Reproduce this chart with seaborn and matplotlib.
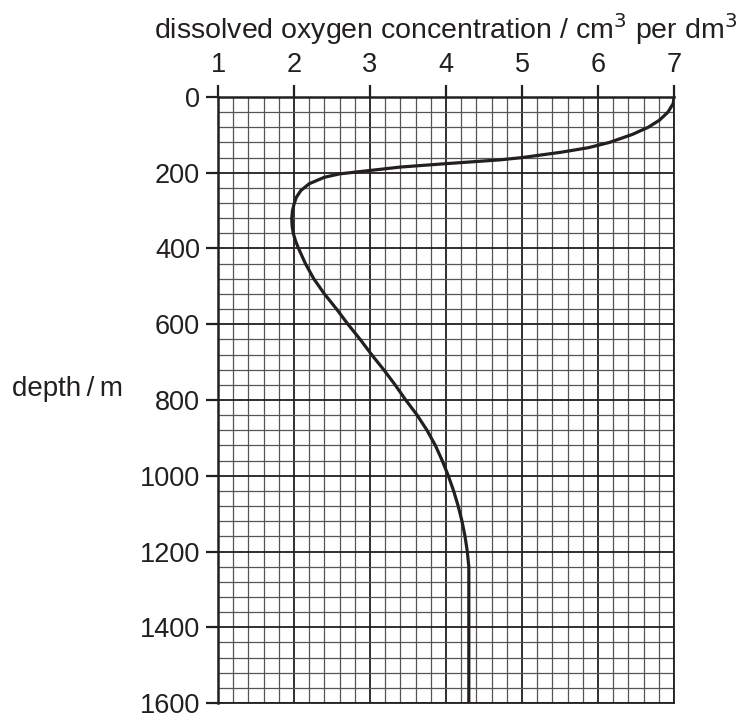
import matplotlib
matplotlib.use("Agg")
import matplotlib.pyplot as plt
import seaborn as sns
import pandas as pd
from matplotlib.ticker import MultipleLocator

sns.set_theme(style="white")
plt.rcParams['font.family'] = ['Liberation Sans', 'DejaVu Sans']
INK = "#231f20"

depth = [0, 17, 40, 61, 80, 99, 120, 134, 146, 160, 166, 176, 185, 194, 203, 212, 229,
         247, 265, 283, 300, 320, 340, 360, 380, 400, 440, 480, 520, 560, 600, 640, 680,
         720, 760, 800, 840, 880, 920, 960, 1000, 1040, 1080, 1120, 1160, 1200, 1240, 1600]
conc = [7.0, 6.99, 6.92, 6.81, 6.66, 6.45, 6.15, 5.87, 5.51, 5.0, 4.71, 4.0, 3.4, 3.0,
        2.6, 2.4, 2.2, 2.09, 2.03, 2.0, 1.98, 1.97, 1.975, 1.99, 2.02, 2.06, 2.15, 2.26,
        2.4, 2.56, 2.71, 2.87, 3.02, 3.18, 3.33, 3.47, 3.62, 3.75, 3.86, 3.95, 4.03,
        4.10, 4.16, 4.21, 4.25, 4.28, 4.3, 4.3]
x_ticks = [1, 2, 3, 4, 5, 6, 7]
y_ticks = [0, 200, 400, 600, 800, 1000, 1200, 1400, 1600]

df = pd.DataFrame({"depth": depth, "conc": conc})

fig = plt.figure(figsize=(7.51, 7.2), dpi=100)
ax = fig.add_axes([0.2903, 0.0236, 0.6072, 0.8417])

ax.xaxis.set_minor_locator(MultipleLocator(0.2))
ax.yaxis.set_minor_locator(MultipleLocator(40))
ax.grid(which="minor", color="#555555", linewidth=0.9)
ax.grid(which="major", color=INK, linewidth=1.3)
ax.set_axisbelow(True)

sns.lineplot(data=df, x="conc", y="depth", sort=False, estimator=None,
             color=INK, linewidth=2.3, ax=ax)

ax.set_xlim(1, 7)
ax.set_ylim(1600, 0)
ax.set_xticks(x_ticks)
ax.set_yticks(y_ticks)
ax.xaxis.tick_top()
ax.xaxis.set_label_position("top")
ax.tick_params(axis="both", which="major", labelsize=19.5, length=9, width=1.6,
               color=INK, labelcolor=INK, direction="out")
ax.tick_params(axis="y", pad=4)
ax.tick_params(axis="x", pad=5)
ax.tick_params(axis="x", which="minor", top=False, bottom=False)
ax.tick_params(axis="y", which="minor", left=False, right=False)
ax.tick_params(axis="x", bottom=False, top=True)
ax.tick_params(axis="y", left=True, right=False)

ax.set_xlabel("dissolved oxygen concentration / cm$^3$ per dm$^3$", fontsize=20.5,
              labelpad=9, color=INK)
ax.set_ylabel("depth\u2009/\u2009m", fontsize=20, rotation=0, color=INK)
ax.yaxis.set_label_coords(-0.33, 0.497)

for s in ax.spines.values():
    s.set_color(INK)
    s.set_linewidth(1.3)
ax.spines["left"].set_linewidth(1.8)
ax.spines["top"].set_linewidth(1.8)

fig.savefig("out.png", dpi=100)
